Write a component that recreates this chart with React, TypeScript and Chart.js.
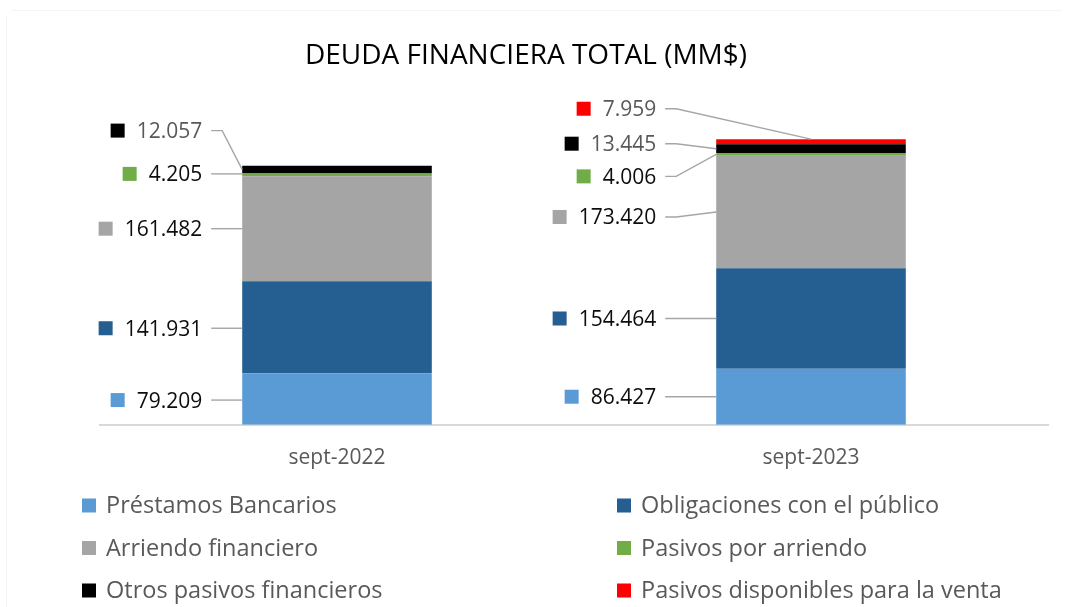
import React, { useEffect, useRef } from "react";
import { Chart, registerables } from "chart.js";

Chart.register(...registerables);

// ---- data (MM$) ----
const categories = ["sept-2022", "sept-2023"];
const seriesNames = [
  "Préstamos Bancarios",
  "Obligaciones con el público",
  "Arriendo financiero",
  "Pasivos por arriendo",
  "Otros pasivos financieros",
  "Pasivos disponibles para la venta",
];
const prestamosBancarios = [79209, 86427];
const obligacionesPublico = [141931, 154464];
const arriendoFinanciero = [161482, 173420];
const pasivosArriendo = [4205, 4006];
const otrosPasivos = [12057, 13445];
const pasivosVenta = [null, 7959];

const seriesValues = [
  prestamosBancarios,
  obligacionesPublico,
  arriendoFinanciero,
  pasivosArriendo,
  otrosPasivos,
  pasivosVenta,
];

// ---- styles / layout ----
const seriesColors = ["#5B9BD5", "#255E91", "#A5A5A5", "#70AD47", "#000000", "#FF0000"];
const labelTextColors = ["#0d0d0d", "#0d0d0d", "#0d0d0d", "#0d0d0d", "#595959", "#595959"];
const FONT = "'Open Sans', 'Noto Sans', sans-serif";

// vertical shift (px) of each data label from its segment middle, per category
const labelShiftY = [
  [1, 1, 0, -1, -39, 0],
  [0, 0, 5, 22, -5, -33],
];
// distance from label text right edge to bar left edge, per category
const labelGapX = [40, 60];
// leader line goes to top-centre of the segment instead of its left side
const leaderToTop = [
  [false, false, false, false, false, false],
  [false, false, false, false, false, true],
];

const fmt = (v: number) => String(Math.round(v)).replace(/\B(?=(\d{3})+(?!\d))/g, ".");

const decorPlugin = {
  id: "decor",
  beforeDraw(chart: any) {
    const ctx = chart.ctx;
    ctx.save();
    ctx.fillStyle = "#ffffff";
    ctx.fillRect(0, 0, chart.width, chart.height);
    ctx.fillStyle = "#f4f4f4";
    ctx.fillRect(12, 10, chart.width - 16, 1);
    ctx.fillRect(6, 15, 1, chart.height - 15);
    // title
    ctx.fillStyle = "#000000";
    ctx.font = `28px ${FONT}`;
    ctx.textAlign = "center";
    ctx.textBaseline = "alphabetic";
    ctx.fillText("DEUDA FINANCIERA TOTAL (MM$)", 526, 64);
    ctx.restore();
  },
  afterDatasetsDraw(chart: any) {
    const ctx = chart.ctx;
    ctx.save();
    ctx.font = `21px ${FONT}`;
    ctx.textAlign = "left";
    ctx.textBaseline = "alphabetic";
    chart.data.datasets.forEach((ds: any, di: number) => {
      const meta = chart.getDatasetMeta(di);
      meta.data.forEach((bar: any, i: number) => {
        const v = ds.data[i];
        if (v == null) return;
        const p = bar.getProps(["x", "y", "base", "width"], true);
        const left = p.x - p.width / 2;
        const mid = (p.y + p.base) / 2;
        const ly = mid + labelShiftY[i][di];
        const text = fmt(v);
        const tw = ctx.measureText(text).width;
        const tr = left - labelGapX[i];
        const tl = tr - tw;
        // key square
        ctx.fillStyle = ds.backgroundColor;
        ctx.fillRect(tl - 12 - 14, ly - 7, 14, 14);
        // value
        ctx.fillStyle = labelTextColors[di];
        ctx.fillText(text, tl, ly + 7.5);
        // leader line
        const sx = tr + 9;
        const ex = sx + 11;
        let ax = left;
        let ay = mid;
        if (leaderToTop[i][di]) {
          ax = p.x;
          ay = Math.min(p.y, p.base);
        } else if (Math.abs(ly - mid) < 2) {
          ay = ly;
        }
        ctx.strokeStyle = "#a6a6a6";
        ctx.lineWidth = 1.4;
        ctx.beginPath();
        ctx.moveTo(sx, ly);
        ctx.lineTo(ex, ly);
        ctx.lineTo(ax, ay);
        ctx.stroke();
      });
    });
    ctx.restore();
  },
  afterDraw(chart: any) {
    const ctx = chart.ctx;
    ctx.save();
    ctx.font = `23.5px ${FONT}`;
    ctx.textAlign = "left";
    ctx.textBaseline = "middle";
    const colX = [82, 617];
    const rowY = [505.5, 548, 590.5];
    chart.data.datasets.forEach((ds: any, k: number) => {
      const x = colX[k % 2];
      const y = rowY[Math.floor(k / 2)];
      ctx.fillStyle = ds.backgroundColor;
      ctx.fillRect(x, y - 7, 14, 14);
      ctx.fillStyle = "#595959";
      ctx.fillText(ds.label, x + 24, y + 1);
    });
    ctx.restore();
  },
};

export default function App() {
  const canvasRef = useRef<HTMLCanvasElement>(null);

  useEffect(() => {
    if (!canvasRef.current) return;
    const chart = new Chart(canvasRef.current, {
      type: "bar",
      data: {
        labels: categories,
        datasets: seriesNames.map((name, k) => ({
          label: name,
          data: seriesValues[k] as any,
          backgroundColor: seriesColors[k],
          borderWidth: 0,
          stack: "s",
          barPercentage: 0.4,
          categoryPercentage: 1.0,
        })),
      },
      options: {
        animation: false,
        responsive: true,
        maintainAspectRatio: false,
        layout: { padding: { top: 100, left: 100, right: 18, bottom: 115 } },
        plugins: {
          legend: { display: false },
          title: { display: false },
          tooltip: { enabled: false },
        },
        scales: {
          x: {
            stacked: true,
            grid: { display: false, drawTicks: false },
            border: { display: true, color: "#d9d9d9", width: 2 },
            ticks: {
              color: "#595959",
              font: { family: FONT, size: 21 },
              padding: 21,
            },
          },
          y: {
            stacked: true,
            display: false,
            min: 0,
            max: 500000,
          },
        },
      },
      plugins: [decorPlugin],
    });
    return () => chart.destroy();
  }, []);

  return (
    <div
      style={{
        position: "fixed",
        left: 0,
        top: 0,
        width: 1066,
        height: 607,
        background: "#ffffff",
      }}
    >
      <canvas ref={canvasRef} />
    </div>
  );
}
